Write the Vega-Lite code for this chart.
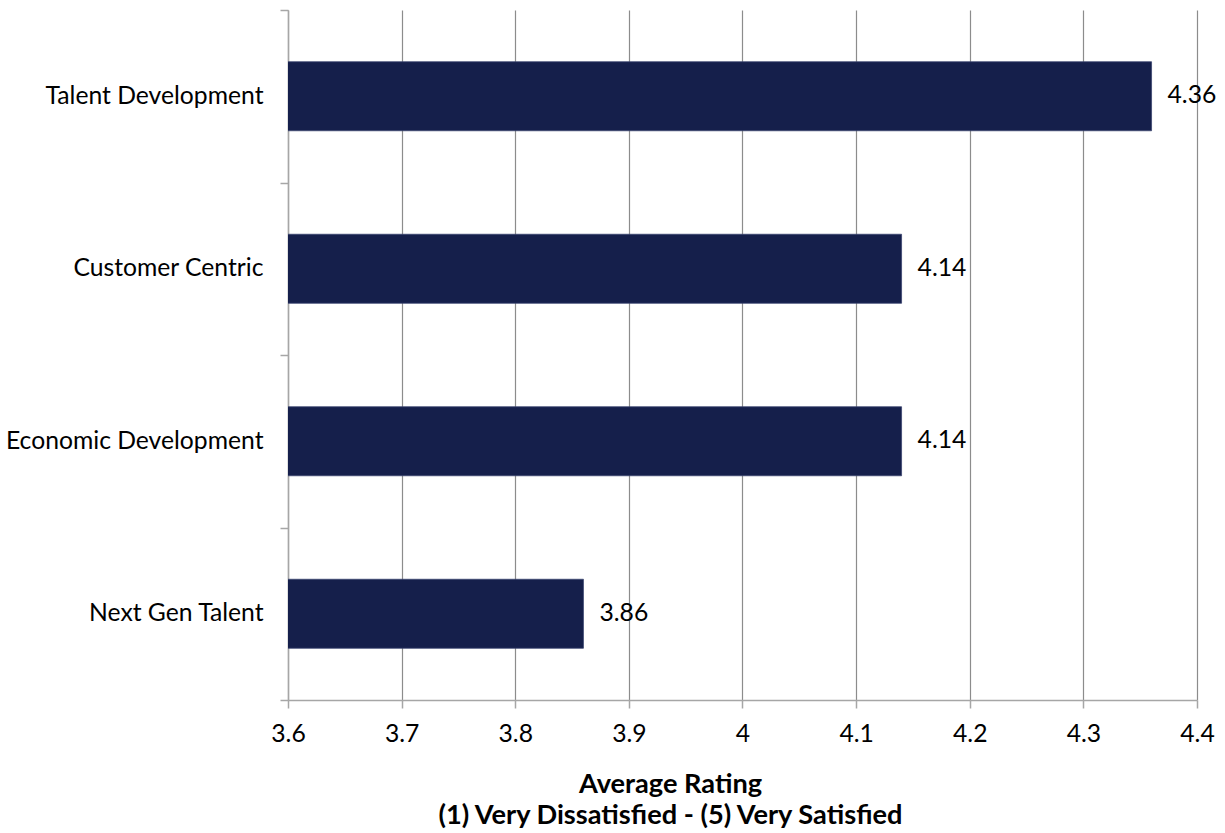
{
  "$schema": "https://vega.github.io/schema/vega-lite/v6.json",
  "autosize": {"type": "none"},
  "width": 909,
  "height": 690,
  "padding": {"left": 288, "top": 10, "right": 28, "bottom": 133},
  "background": "white",
  "config": {
    "view": {"stroke": null},
    "font": "Lato",
    "text": {"font": "Lato"}
  },
  "data": {
    "values": [
      {"area": "Talent Development", "rating": 4.36},
      {"area": "Customer Centric", "rating": 4.14},
      {"area": "Economic Development", "rating": 4.14},
      {"area": "Next Gen Talent", "rating": 3.86}
    ]
  },
  "encoding": {
    "y": {
      "field": "area",
      "type": "nominal",
      "sort": null,
      "scale": {"paddingInner": 0, "paddingOuter": 0},
      "axis": {
        "title": null,
        "domainColor": "#a6a6a6",
        "domainWidth": 1.5,
        "tickColor": "#a6a6a6",
        "tickWidth": 1.5,
        "tickSize": 8,
        "tickBand": "extent",
        "labelFont": "Lato",
        "labelFontSize": 24.7,
        "labelColor": "#000000",
        "labelPadding": 17,
        "labelLimit": 400
      }
    },
    "x": {
      "field": "rating",
      "type": "quantitative",
      "scale": {"domain": [3.6, 4.4], "nice": false, "zero": false},
      "axis": {
        "values": [3.6, 3.7, 3.8, 3.9, 4, 4.1, 4.2, 4.3, 4.4],
        "format": "~g",
        "grid": true,
        "gridColor": "#8c8c8c",
        "gridWidth": 1.2,
        "domainColor": "#a6a6a6",
        "domainWidth": 1.5,
        "tickColor": "#a6a6a6",
        "tickWidth": 1.5,
        "tickSize": 8,
        "labelFont": "Lato",
        "labelFontSize": 24.7,
        "labelColor": "#000000",
        "labelPadding": 13,
        "labelFlush": false,
        "labelOverlap": false,
        "title": ["Average Rating", "(1) Very Dissatisfied - (5) Very Satisfied"],
        "titleFont": "Lato",
        "titleFontSize": 27.2,
        "titleFontWeight": "bold",
        "titleColor": "#000000",
        "titleAnchor": "middle",
        "titleAlign": "center",
        "titleBaseline": "alphabetic",
        "titleX": 382,
        "titleY": 92,
        "titleLineHeight": 31
      }
    }
  },
  "layer": [
    {
      "mark": {"type": "bar", "clip": true, "height": {"band": 0.4}, "color": "#151f4b", "stroke": "#3b4570", "strokeWidth": 0.8}
    },
    {
      "mark": {"type": "text", "align": "left", "baseline": "middle", "dx": 16, "fontSize": 24.7, "color": "#000000", "font": "Lato"},
      "encoding": {"text": {"field": "rating", "type": "quantitative", "format": ".2f"}}
    }
  ]
}
